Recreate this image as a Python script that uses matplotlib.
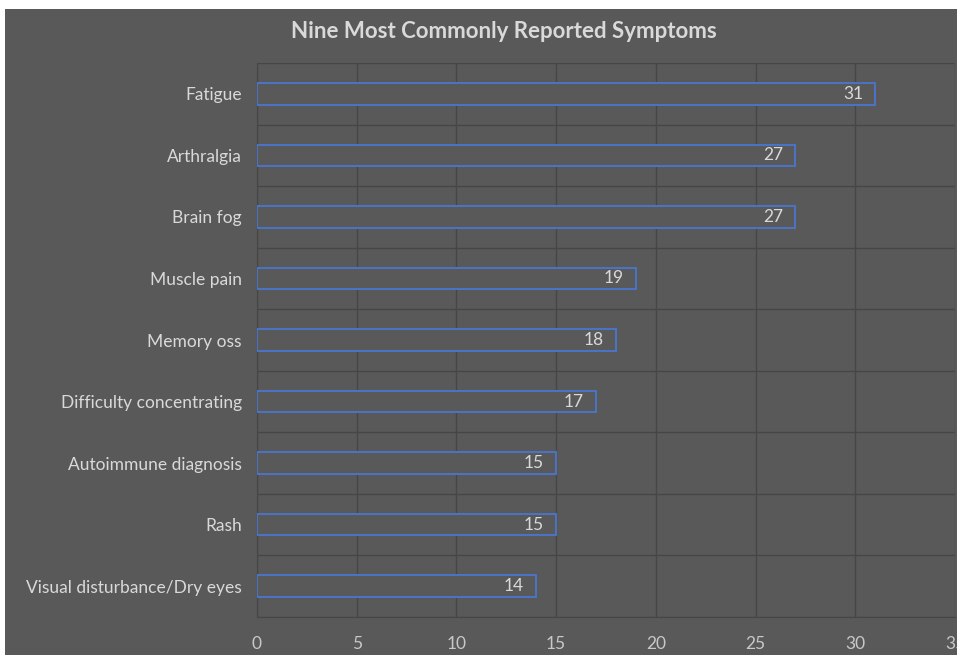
import matplotlib.pyplot as plt
from matplotlib.patches import Rectangle

symptoms = ["Fatigue", "Arthralgia", "Brain fog", "Muscle pain", "Memory oss",
            "Difficulty concentrating", "Autoimmune diagnosis", "Rash",
            "Visual disturbance/Dry eyes"]
counts = [31, 27, 27, 19, 18, 17, 15, 15, 14]
xticks = [0, 5, 10, 15, 20, 25, 30, 35]

bg = "#595959"
grid_c = "#464646"
txt = "#d9d9d9"

plt.rcParams["font.family"] = ["Lato", "DejaVu Sans"]

fig = plt.figure(figsize=(9.57, 6.55), dpi=100, facecolor="white")
fig.patches.append(Rectangle((5 / 957, 0), 1, 1 - 9 / 655, transform=fig.transFigure,
                             facecolor=bg, edgecolor="none", zorder=-5))

ax = fig.add_axes([257 / 957, 38 / 655, 698 / 957, 554 / 655])
ax.set_facecolor(bg)

y = list(range(len(symptoms)))
bars = ax.barh(y, counts, height=0.35, facecolor=bg, edgecolor="#4a74c9", linewidth=1.4, zorder=3)
for i, v in enumerate(counts):
    ax.text(v - 0.6, i, str(v), ha="right", va="center", color=txt, fontsize=12.5, zorder=4)

ax.set_xlim(0, 35)
ax.set_ylim(len(symptoms) - 0.5, -0.5)
ax.set_xticks(xticks)
ax.set_xticklabels([str(t) for t in xticks])
ax.set_yticks(y)
ax.set_yticklabels(symptoms)
ax.set_yticks([i + 0.5 for i in range(-1, len(symptoms))], minor=True)
ax.grid(axis="x", color=grid_c, linewidth=1)
ax.grid(axis="y", which="minor", color=grid_c, linewidth=1)
ax.set_axisbelow(True)
ax.tick_params(axis="both", which="both", length=0, colors=txt, labelsize=12.5)
ax.tick_params(axis="x", pad=14, colors="#c8c8c8")
ax.tick_params(axis="y", pad=11)
for s in ax.spines.values():
    s.set_visible(False)
ax.spines["left"].set_visible(True)
ax.spines["left"].set_color(grid_c)
ax.spines["bottom"].set_visible(True)
ax.spines["bottom"].set_color(grid_c)

fig.text(0.526, 1 - 31 / 655, "Nine Most Commonly Reported Symptoms", ha="center", va="center",
         color=txt, fontsize=16, fontweight="bold")

fig.savefig("out.png", dpi=100, facecolor=fig.get_facecolor())
